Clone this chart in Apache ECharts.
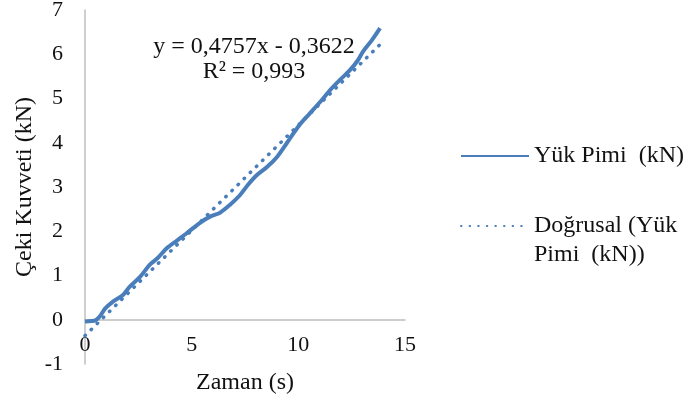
<!DOCTYPE html>
<html>
<head>
<meta charset="utf-8">
<script src="https://cdn.jsdelivr.net/npm/echarts@6/dist/echarts.min.js"></script>
<style>html,body{margin:0;padding:0;background:#fff}#c{width:687px;height:405px}</style>
</head>
<body>
<div id="c"></div>
<script>
// Measured series (Zaman s, Yük Pimi kN)
var timeS  = [0, 0.3, 0.5, 0.7, 0.94, 1.31, 1.78, 2.1, 2.58, 3.05, 3.42, 3.84, 4.31, 4.78, 5.39, 5.86, 6.33, 6.8, 7.27, 7.64, 8.06, 8.53, 9.0, 9.47, 9.61, 10.08, 10.55, 11.02, 11.49, 11.95, 12.42, 12.8, 13.03, 13.45, 13.83];
var forceKN = [-0.04, -0.03, -0.01, 0.08, 0.25, 0.41, 0.56, 0.75, 0.97, 1.25, 1.40, 1.62, 1.79, 1.96, 2.19, 2.33, 2.42, 2.6, 2.82, 3.05, 3.27, 3.45, 3.68, 4.0, 4.1, 4.42, 4.67, 4.92, 5.19, 5.42, 5.64, 5.87, 6.06, 6.32, 6.59];
// Linear trend line end points
var trendX = [0, 13.83];
var trendY = [-0.36, 6.22];
var equationLines = ['y = 0,4757x - 0,3622', 'R² = 0,993'];
var seriesNames = ['Yük Pimi  (kN)', 'Doğrusal (Yük Pimi  (kN))'];
var yMin = -1, yMax = 7;

var FONT = 'Liberation Serif';
var BLUE = '#4a7ebb';
function zip(a, b) { return a.map(function (v, i) { return [v, b[i]]; }); }

var gridTop = 10, gridBottom = 41, H = 405;
var unitPx = (H - gridTop - gridBottom) / (yMax - yMin);

var chart = echarts.init(document.getElementById('c'));
chart.setOption({
  animation: false,
  backgroundColor: '#fff',
  textStyle: { fontFamily: FONT },
  grid: { left: 85, right: 282, top: gridTop, bottom: gridBottom, containLabel: false, outerBoundsMode: 'none' },
  xAxis: {
    type: 'value', min: 0, max: 15, interval: 5,
    name: 'Zaman (s)', nameLocation: 'middle', nameGap: 51,
    nameTextStyle: { fontFamily: FONT, fontSize: 24, color: '#111' },
    offset: -unitPx * (0 - yMin),
    axisLine: { onZero: false, lineStyle: { color: '#bfbfbf', width: 1.5 } },
    axisTick: { show: false },
    splitLine: { show: false },
    axisLabel: { fontFamily: FONT, fontSize: 22, color: '#111', margin: 14 }
  },
  yAxis: {
    type: 'value', min: yMin, max: yMax, interval: 1,
    name: 'Çeki Kuvveti (kN)', nameLocation: 'middle', nameGap: 48,
    nameTextStyle: { fontFamily: FONT, fontSize: 24, color: '#111' },
    axisLine: { show: true, lineStyle: { color: '#bfbfbf', width: 1.5 } },
    axisTick: { show: false },
    splitLine: { show: false },
    axisLabel: { fontFamily: FONT, fontSize: 22, color: '#111', margin: 22 }
  },
  legend: [
    {
      data: [seriesNames[0]], orient: 'vertical', left: 460, top: 141.5, padding: 0,
      itemWidth: 68, itemHeight: 14, itemStyle: { opacity: 0 },
      textStyle: { fontFamily: FONT, fontSize: 24, color: '#111', lineHeight: 29 }
    },
    {
      data: [seriesNames[1]], orient: 'vertical', left: 460, top: 182.5, padding: 0,
      itemWidth: 68, itemHeight: 14, itemStyle: { opacity: 0 },
      formatter: function () { return '\nDoğrusal (Yük\nPimi  (kN))'; },
      textStyle: { fontFamily: FONT, fontSize: 24, color: '#111', lineHeight: 29 }
    }
  ],
  graphic: [{
    type: 'text', x: 254, y: 34,
    style: {
      text: equationLines.join('\n'),
      font: '24px "Liberation Serif"', fill: '#111', lineHeight: 25,
      align: 'center'
    }
  }],
  series: [
    {
      name: seriesNames[0], type: 'line', data: zip(timeS, forceKN),
      showSymbol: false, symbol: 'none', smooth: 0.3,
      lineStyle: { color: BLUE, width: 4 }, itemStyle: { color: BLUE }
    },
    {
      name: seriesNames[1], type: 'line', data: zip(trendX, trendY),
      showSymbol: false, symbol: 'none',
      lineStyle: { color: BLUE, width: 3.5, type: [0.5, 8.1], cap: 'round' }, itemStyle: { color: BLUE }
    }
  ]
});
</script>
</body>
</html>
